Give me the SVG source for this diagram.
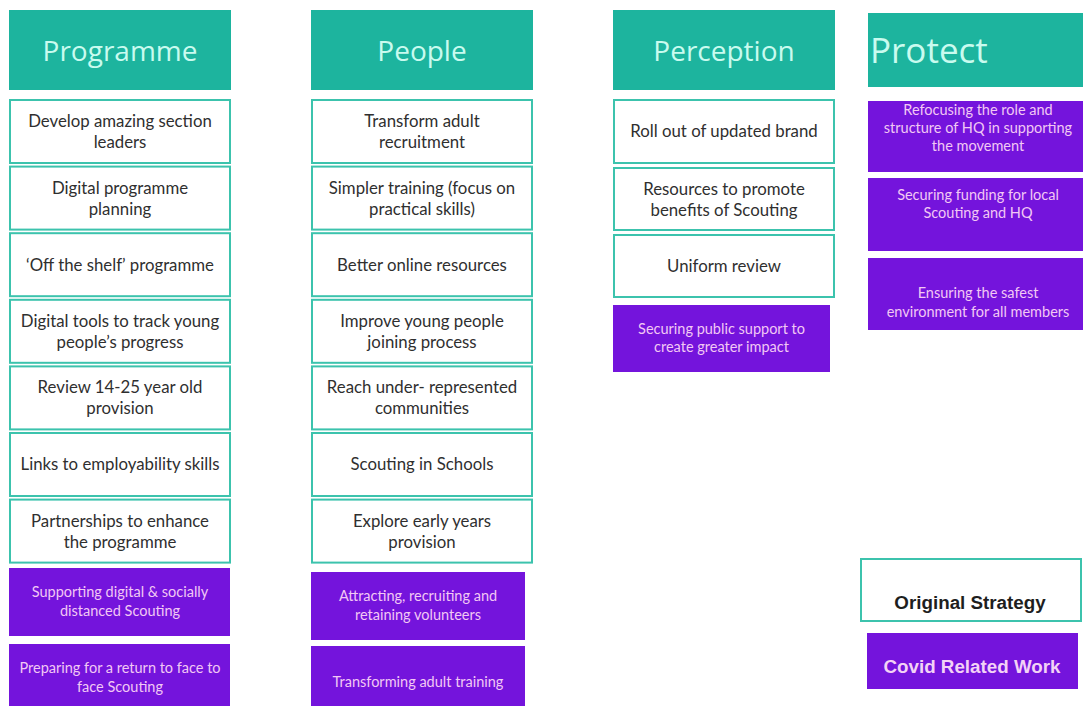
<svg xmlns="http://www.w3.org/2000/svg" width="1083" height="706" viewBox="0 0 1083 706">
<style>
.hdr{fill:#1db49e}
.hdrt{font-family:"Open Sans","Noto Sans",sans-serif;font-size:28px;fill:#c9fbef;text-anchor:middle}
.box{fill:#ffffff;stroke:#3cc3ad;stroke-width:2}
.bt{font-family:Lato,"Open Sans",sans-serif;font-size:16.8px;fill:#2f2f2f;text-anchor:middle}
.pur{fill:#7414dc}
.pt{font-family:Lato,"Open Sans",sans-serif;font-size:14.5px;fill:#f2c8f4;text-anchor:middle}
.lg{font-family:"Liberation Sans",Arial,sans-serif;font-size:18.8px;font-weight:bold;text-anchor:middle}
</style>
<rect width="1083" height="706" fill="#ffffff"/>

<!-- Programme column -->
<g id="programme-header"><rect class="hdr" x="9" y="10" width="222" height="80"/><text class="hdrt" x="120" y="61">Programme</text></g>
<g id="prog-1"><rect class="box" x="10" y="100" width="220" height="63"/><text class="bt" x="120" y="127">Develop amazing section</text><text class="bt" x="120" y="148">leaders</text></g>
<g id="prog-2"><rect class="box" x="10" y="166.6" width="220" height="63"/><text class="bt" x="120" y="193.6">Digital programme</text><text class="bt" x="120" y="214.6">planning</text></g>
<g id="prog-3"><rect class="box" x="10" y="233.2" width="220" height="63"/><text class="bt" x="120" y="270.5">‘Off the shelf’ programme</text></g>
<g id="prog-4"><rect class="box" x="10" y="299.8" width="220" height="63"/><text class="bt" x="120" y="326.8">Digital tools to track young</text><text class="bt" x="120" y="347.8">people’s progress</text></g>
<g id="prog-5"><rect class="box" x="10" y="366.4" width="220" height="63"/><text class="bt" x="120" y="393.4">Review 14-25 year old</text><text class="bt" x="120" y="414.4">provision</text></g>
<g id="prog-6"><rect class="box" x="10" y="433" width="220" height="63"/><text class="bt" x="120" y="470">Links to employability skills</text></g>
<g id="prog-7"><rect class="box" x="10" y="499.6" width="220" height="63"/><text class="bt" x="120" y="526.6">Partnerships to enhance</text><text class="bt" x="120" y="547.6">the programme</text></g>
<g id="prog-c1"><rect class="pur" x="9" y="568" width="221" height="68"/><text class="pt" x="120" y="597">Supporting digital &amp; socially</text><text class="pt" x="120" y="615.5">distanced Scouting</text></g>
<g id="prog-c2"><rect class="pur" x="9" y="644" width="221" height="66"/><text class="pt" x="120" y="673">Preparing for a return to face to</text><text class="pt" x="120" y="691.5">face Scouting</text></g>

<!-- People column -->
<g id="people-header"><rect class="hdr" x="311" y="10" width="222" height="80"/><text class="hdrt" x="422" y="61">People</text></g>
<g id="peop-1"><rect class="box" x="312" y="100" width="220" height="63"/><text class="bt" x="422" y="127">Transform adult</text><text class="bt" x="422" y="148">recruitment</text></g>
<g id="peop-2"><rect class="box" x="312" y="166.6" width="220" height="63"/><text class="bt" x="422" y="193.6">Simpler training (focus on</text><text class="bt" x="422" y="214.6">practical skills)</text></g>
<g id="peop-3"><rect class="box" x="312" y="233.2" width="220" height="63"/><text class="bt" x="422" y="270.5">Better online resources</text></g>
<g id="peop-4"><rect class="box" x="312" y="299.8" width="220" height="63"/><text class="bt" x="422" y="326.8">Improve young people</text><text class="bt" x="422" y="347.8">joining process</text></g>
<g id="peop-5"><rect class="box" x="312" y="366.4" width="220" height="63"/><text class="bt" x="422" y="393.4">Reach under- represented</text><text class="bt" x="422" y="414.4">communities</text></g>
<g id="peop-6"><rect class="box" x="312" y="433" width="220" height="63"/><text class="bt" x="422" y="470">Scouting in Schools</text></g>
<g id="peop-7"><rect class="box" x="312" y="499.6" width="220" height="63"/><text class="bt" x="422" y="526.6">Explore early years</text><text class="bt" x="422" y="547.6">provision</text></g>
<g id="peop-c1"><rect class="pur" x="311" y="572" width="214" height="68"/><text class="pt" x="418" y="601">Attracting, recruiting and</text><text class="pt" x="418" y="619.5">retaining volunteers</text></g>
<g id="peop-c2"><rect class="pur" x="311" y="646" width="214" height="64"/><text class="pt" x="418" y="687">Transforming adult training</text></g>

<!-- Perception column -->
<g id="perception-header"><rect class="hdr" x="613" y="10" width="222" height="80"/><text class="hdrt" x="724" y="61">Perception</text></g>
<g id="perc-1"><rect class="box" x="614" y="100" width="220" height="63"/><text class="bt" x="724" y="137">Roll out of updated brand</text></g>
<g id="perc-2"><rect class="box" x="614" y="168" width="220" height="62"/><text class="bt" x="724" y="194.5">Resources to promote</text><text class="bt" x="724" y="215.5">benefits of Scouting</text></g>
<g id="perc-3"><rect class="box" x="614" y="235" width="220" height="62"/><text class="bt" x="724" y="271.5">Uniform review</text></g>
<g id="perc-c1"><rect class="pur" x="613" y="305" width="217" height="67"/><text class="pt" x="721.5" y="333.5">Securing public support to</text><text class="pt" x="721.5" y="352">create greater impact</text></g>

<!-- Protect column -->
<g id="protect-header"><rect class="hdr" x="868" y="13" width="220" height="74"/><text x="870" y="63" style="font-family:'Open Sans','Noto Sans',sans-serif;font-size:35px;fill:#c9fbef">Protect</text></g>
<g id="prot-c1"><rect class="pur" x="868" y="101" width="220" height="71"/><text class="pt" x="978" y="115">Refocusing the role and</text><text class="pt" x="978" y="133">structure of HQ in supporting</text><text class="pt" x="978" y="151">the movement</text></g>
<g id="prot-c2"><rect class="pur" x="868" y="178" width="220" height="73"/><text class="pt" x="978" y="200">Securing funding for local</text><text class="pt" x="978" y="218">Scouting and HQ</text></g>
<g id="prot-c3"><rect class="pur" x="868" y="258" width="220" height="72"/><text class="pt" x="978" y="298">Ensuring the safest</text><text class="pt" x="978" y="317">environment for all members</text></g>

<!-- Legend -->
<g id="legend-original"><rect class="box" x="861" y="559" width="220" height="62"/><text class="lg" x="970" y="609" fill="#1e1e1e">Original Strategy</text></g>
<g id="legend-covid"><rect class="pur" x="867" y="633" width="211" height="56"/><text class="lg" x="972" y="673" fill="#f3d2f6">Covid Related Work</text></g>

<g id="connectors"></g>
</svg>
